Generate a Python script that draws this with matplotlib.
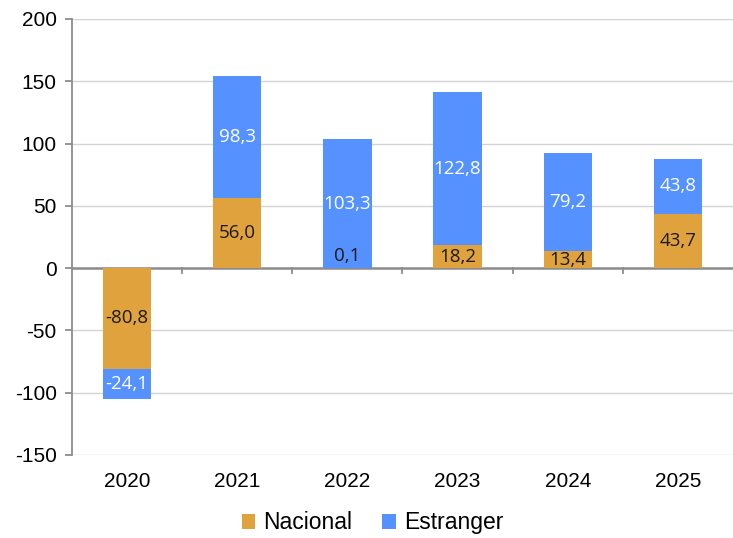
import numpy as np
import matplotlib.pyplot as plt

years = ['2020', '2021', '2022', '2023', '2024', '2025']
nacional = [-80.8, 56.0, 0.1, 18.2, 13.4, 43.7]
estranger = [-24.1, 98.3, 103.3, 122.8, 79.2, 43.8]

col_nac = '#E0A23C'
col_est = '#5592FF'

plt.rcParams['font.family'] = ['Liberation Sans', 'DejaVu Sans']
plt.rcParams['axes.unicode_minus'] = False

fig = plt.figure(figsize=(7.33, 5.38), dpi=100)
ax = fig.add_axes([72 / 733, 1 - 455 / 538, 1 - 72 / 733, (455 - 19) / 538])

x = np.arange(len(years))
w = 0.44
nac = np.array(nacional)
est = np.array(estranger)

# negative values stack downward, positive upward
est_bottom = np.where(est * nac > 0, nac, 0)

ax.bar(x, nac, w, color=col_nac, label='Nacional', zorder=3)
ax.bar(x, est, w, bottom=est_bottom, color=col_est, label='Estranger', zorder=3)

def fmt(v):
    return f'{v:.1f}'.replace('.', ',')

lab_font = dict(family=['Open Sans', 'DejaVu Sans'], fontsize=13.5, ha='center', va='center', zorder=4)
for i in range(len(years)):
    if abs(nac[i]) < 5:
        ax.text(x[i], nac[i] + 10, fmt(nac[i]), color='#1a1a1a', **lab_font)
    else:
        ax.text(x[i], nac[i] / 2, fmt(nac[i]), color='#1a1a1a', **lab_font)
    ax.text(x[i], est_bottom[i] + est[i] / 2, fmt(est[i]), color='white', **lab_font)

ax.set_xlim(-0.5, len(years) - 0.5)
ax.set_ylim(-150, 200)
ax.set_yticks(np.arange(-150, 201, 50))
ax.grid(axis='y', color='#d4d4d4', linewidth=1, zorder=0)
ax.set_axisbelow(True)

for s in ['top', 'right', 'bottom']:
    ax.spines[s].set_visible(False)
ax.spines['left'].set_color('#8c8c8c')
ax.spines['left'].set_linewidth(1.3)
ax.tick_params(axis='y', colors='#8c8c8c', length=5, width=1.3, labelsize=15, labelcolor='black', pad=6)

# zero line with category separators
ax.axhline(0, color='#8c8c8c', linewidth=1.8, zorder=2)
for b in np.arange(0.5, len(years) - 0.5, 1):
    ax.plot([b, b], [0, -4], color='#8c8c8c', linewidth=1.3, zorder=2, clip_on=False)

ax.set_xticks(x)
ax.set_xticklabels(years)
ax.tick_params(axis='x', length=0, labelsize=15, pad=12)

fig.legend(loc='center', bbox_to_anchor=(0.508, 0.028), ncol=2, frameon=False,
           fontsize=16.5, handlelength=0.6, handleheight=0.6, handletextpad=0.35,
           columnspacing=1.3, borderpad=0.2)

fig.savefig('out.png', dpi=100)
